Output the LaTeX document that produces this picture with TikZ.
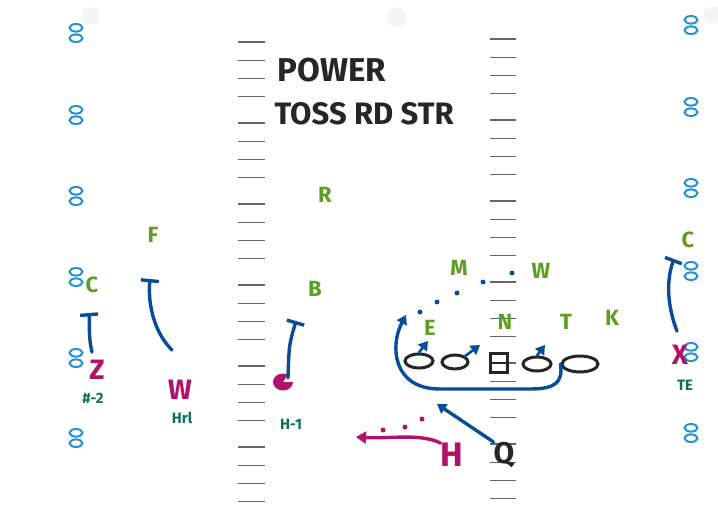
\documentclass[tikz,border=0pt]{standalone}
\usepackage{fontspec}
\setmainfont{Fira Sans}
\usetikzlibrary{arrows.meta,positioning,shapes.geometric}
\definecolor{routeblue}{HTML}{0B4C96}
\definecolor{defgreen}{HTML}{5E9E22}
\definecolor{offred}{HTML}{B0126A}
\definecolor{tagteal}{HTML}{117158}
\definecolor{yardblue}{HTML}{2391D6}
\definecolor{ink}{HTML}{262626}

\tikzset{
  yard/.pic={\draw[yardblue, line width=2pt] (0,-5.2) ellipse[x radius=6.5, y radius=3.8]
      (0,5.2) ellipse[x radius=6.5, y radius=3.8];},
  hash/.style={draw=black!60, line width=1.3pt},
  defense/.style={text=defgreen, inner sep=0pt, font=\bfseries\fontsize{22}{22}\selectfont},
  offense/.style={text=offred, inner sep=0pt, font=\bfseries\fontsize{28}{28}\selectfont},
  tag/.style={text=tagteal, inner sep=0pt, font=\bfseries\fontsize{15}{15}\selectfont},
  lineman/.style={ellipse, draw=ink, line width=3pt, inner sep=0pt, minimum width=28pt, minimum height=14pt},
  route/.style={draw=routeblue, line width=3.4pt, line cap=round},
  block/.style={route, -{Bar[width=18pt]}},
  runto/.style={route, -{Triangle[length=9pt, width=11pt]}}
}

\begin{document}
\begin{tikzpicture}[x=1pt, y=-1pt]
  \useasboundingbox[fill=white] (0,0) rectangle (718,508);
  % punch holes
  \fill[black!4] (90,16) circle (9) (397,17) circle (10) (712,15) circle (9);

  % hash marks
  \foreach \k in {0,...,5}
    \foreach \i in {0,...,3} {
      \draw[hash] (238,{42+81*\k+18.2*\i}) -- (265,{42+81*\k+18.2*\i});
      \draw[hash] (490,{39+81*\k+18.2*\i}) -- (516,{39+81*\k+18.2*\i});
    }

  % yard numbers
  \foreach \y in {33,115,196,277,358,438}
    \pic at (76,\y) {yard};
  \foreach \y in {25,107,188,271,352,433}
    \pic at (691,\y) {yard};

  \node[anchor=base west, text=ink, font=\bfseries\fontsize{33}{33}\selectfont] (ttlA) at (274,82) {POWER};
  \node[anchor=base west, text=ink, font=\bfseries\fontsize{31}{31}\selectfont] (ttlB) at (271,125) {TOSS RD STR};

  % defense
  \node[defense] (dF) at (153,235) {F};
  \node[defense] (dCl) at (92,285) {C};
  \node[defense] (dR) at (325,195) {R};
  \node[defense] (dB) at (315,289) {B};
  \node[defense] (dM) at (459,268) {M};
  \node[defense] (dW) at (541,271) {W};
  \node[defense] (dE) at (430,328) {E};
  \node[defense] (dN) at (505,322) {N};
  \node[defense] (dT) at (566,322) {T};
  \node[defense] (dK) at (612,318) {K};
  \node[defense] (dCr) at (688,240) {C};

  % offense
  \node[lineman] (oL1) at (419,361) {};
  \node[lineman, minimum width=26pt] (oL2) at (455,362) {};
  \node[draw=ink, line width=3pt, inner sep=0pt, minimum width=17pt, minimum height=19pt] (oC) at (499,363) {};
  \draw[ink, line width=2.6pt] (oC.west) -- (oC.east);
  \node[lineman] (oL4) at (537,364) {};
  \node[lineman, minimum width=36pt, minimum height=16pt] (oL5) at (580,364) {};
  \node[offense] (oZ) at (97,370) {Z};
  \node[offense] (oW) at (180,390) {W};
  \coordinate (oY) at (283,382);
  \fill[offred] (oY) -- ++(0:10) arc[start angle=0, end angle=300, x radius=10, y radius=8.5] -- cycle;
  \node[offense] (oX) at (680,355) {X};
  \node[offense, font=\bfseries\fontsize{34}{34}\selectfont] (oH) at (452,455) {H};
  \node[text=ink, inner sep=0pt, font=\bfseries\fontsize{30}{30}\selectfont] (oQ) at (504,455) {Q};

  \node[tag] (tZ) at (93,398) {\#-2};
  \node[tag] (tW) at (182,418) {Hrl};
  \node[tag] (tY) at (291,424) {H-1};
  \node[tag] (tX) at (685,385) {TE};

  % blocks
  \coordinate (zEnd) at (89,313);
  \coordinate (wEnd) at (150,279);
  \coordinate (yEnd) at (296,321);
  \coordinate (xEnd) at (674,259);
  \draw[block] ([xshift=-5pt, yshift=8pt]oZ.north) .. controls (88,335) and (90,325) .. (zEnd);
  \draw[block] ([xshift=-8pt, yshift=30pt]oW.north) .. controls (152,330) and (148,300) .. (wEnd);
  \draw[block] ([xshift=5pt, yshift=4pt]oY) .. controls (289,345) .. (yEnd);
  \draw[block] ([xshift=-3pt, yshift=14pt]oX.north) .. controls (665,300) and (668,275) .. (xEnd);

  % line
  \coordinate (l1End) at (428,341);
  \coordinate (l2End) at (480,345);
  \coordinate (l4End) at (545,345);
  \draw[runto, line width=2.6pt] (oL1.north) -- (l1End);
  \draw[runto, line width=2.6pt] (oL2.north east) -- (l2End);
  \draw[runto, line width=2.6pt] (oL4.north) -- (l4End);

  % pull
  \coordinate (pullEnd) at (406,315);
  \draw[runto] (oL5.west) .. controls (563,382) and (556,389) .. (530,389)
    -- (440,389) .. controls (392,389) and (390,345) .. (pullEnd);
  \foreach \x/\y in {420/312,437/302,457/293,483/282,512/273}
    \fill[routeblue] (\x,\y) circle (2.5);

  % toss
  \coordinate (tossEnd) at (437,404);
  \draw[runto] (oQ.north west) -- (tossEnd);

  \coordinate (hEnd) at (356,437);
  \draw[route, draw=offred, -{Triangle[length=10pt, width=12pt]}] (oH.north west) .. controls (420,433) and (390,439) .. (hEnd);
  \foreach \x/\y in {422/419,405/427,383/430}
    \fill[offred] (\x,\y) circle (2.5);
\end{tikzpicture}
\end{document}
